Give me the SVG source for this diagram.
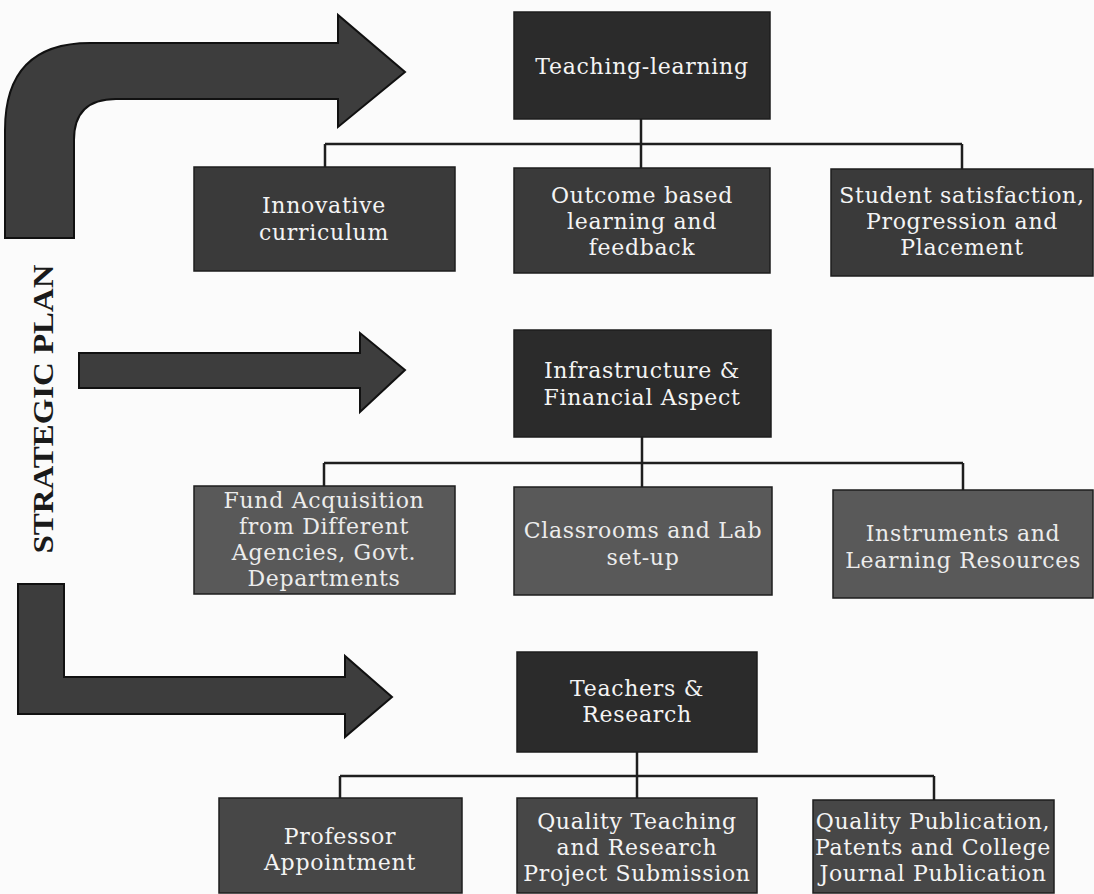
<svg xmlns="http://www.w3.org/2000/svg" width="1094" height="894" viewBox="0 0 1094 894">
<style>
.bg{fill:#fbfbfb}
.arrow{fill:#3d3d3d;stroke:#111;stroke-width:2;stroke-linejoin:miter}
.box{stroke:#1e1e1e;stroke-width:1.5}
.main{fill:#2b2b2b}
.c1{fill:#3a3a3a}
.c2{fill:#595959}
.c3{fill:#474747}
.lbl{font-family:"DejaVu Serif","Liberation Serif",serif;font-size:22px;letter-spacing:0.7px;fill:#f4f4f4;text-anchor:middle}
.lbl2{fill:#ececec}
.conn{fill:none;stroke:#1e1e1e;stroke-width:2.5}
.title{font-family:"Liberation Serif","DejaVu Serif",serif;font-weight:bold;font-size:30px;fill:#1a1a1a;text-anchor:middle}
</style>
<rect class="bg" x="0" y="0" width="1094" height="894"/>

<g id="arrows">
  <path id="arrow-top" class="arrow" d="M5,238 L5,130 Q5,43 90,43 L338,43 L338,15 L405,72 L338,127 L338,99 L116,99 Q74,99 74,140 L74,238 Z"/>
  <path id="arrow-middle" class="arrow" d="M79,353 L360,353 L360,333 L405,370 L360,412 L360,388 L79,388 Z"/>
  <path id="arrow-bottom" class="arrow" d="M18,584 L64,584 L64,677 L345,677 L345,656 L392,697 L345,737 L345,714 L18,714 Z"/>
</g>

<g id="strategic-plan">
  <text class="title" transform="translate(53,409) rotate(-90)" textLength="289" lengthAdjust="spacingAndGlyphs">STRATEGIC PLAN</text>
</g>

<g id="connectors">
  <path class="conn" d="M325,144 L962,144 M325,144 L325,167 M641,119 L641,168 M962,144 L962,169"/>
  <path class="conn" d="M324,463 L963,463 M324,463 L324,486 M642,437 L642,487 M963,463 L963,490"/>
  <path class="conn" d="M340,776 L934,776 M340,776 L340,798 M637,752 L637,798 M934,776 L934,800"/>
</g>

<g id="teaching-learning">
  <rect class="box main" x="514" y="12" width="256" height="107"/>
  <text class="lbl" x="642" y="74">Teaching-learning</text>
</g>
<g id="innovative-curriculum">
  <rect class="box c1" x="194" y="167" width="261" height="104"/>
  <text class="lbl" x="324" y="213">Innovative</text>
  <text class="lbl" x="324" y="240">curriculum</text>
</g>
<g id="outcome-based">
  <rect class="box c1" x="514" y="168" width="256" height="105"/>
  <text class="lbl" x="642" y="203">Outcome based</text>
  <text class="lbl" x="642" y="229">learning and</text>
  <text class="lbl" x="642" y="255">feedback</text>
</g>
<g id="student-satisfaction">
  <rect class="box c1" x="831" y="169" width="262" height="107"/>
  <text class="lbl" x="962" y="203">Student satisfaction,</text>
  <text class="lbl" x="962" y="229">Progression and</text>
  <text class="lbl" x="962" y="255">Placement</text>
</g>

<g id="infrastructure">
  <rect class="box main" x="514" y="330" width="257" height="107"/>
  <text class="lbl" x="642" y="378">Infrastructure &amp;</text>
  <text class="lbl" x="642" y="405">Financial Aspect</text>
</g>
<g id="fund-acquisition">
  <rect class="box c2" x="194" y="486" width="261" height="108"/>
  <text class="lbl lbl2" x="324" y="508">Fund Acquisition</text>
  <text class="lbl lbl2" x="324" y="534">from Different</text>
  <text class="lbl lbl2" x="324" y="560">Agencies, Govt.</text>
  <text class="lbl lbl2" x="324" y="586">Departments</text>
</g>
<g id="classrooms">
  <rect class="box c2" x="514" y="487" width="258" height="108"/>
  <text class="lbl lbl2" x="643" y="538">Classrooms and Lab</text>
  <text class="lbl lbl2" x="643" y="565">set-up</text>
</g>
<g id="instruments">
  <rect class="box c2" x="833" y="490" width="260" height="108"/>
  <text class="lbl lbl2" x="963" y="541">Instruments and</text>
  <text class="lbl lbl2" x="963" y="568">Learning Resources</text>
</g>

<g id="teachers-research">
  <rect class="box main" x="517" y="652" width="240" height="100"/>
  <text class="lbl" x="637" y="696">Teachers &amp;</text>
  <text class="lbl" x="637" y="722">Research</text>
</g>
<g id="professor-appointment">
  <rect class="box c3" x="219" y="798" width="243" height="95"/>
  <text class="lbl" x="340" y="844">Professor</text>
  <text class="lbl" x="340" y="870">Appointment</text>
</g>
<g id="quality-teaching">
  <rect class="box c3" x="517" y="798" width="240" height="95"/>
  <text class="lbl" x="637" y="829">Quality Teaching</text>
  <text class="lbl" x="637" y="855">and Research</text>
  <text class="lbl" x="637" y="881">Project Submission</text>
</g>
<g id="quality-publication">
  <rect class="box c3" x="813" y="800" width="241" height="93"/>
  <text class="lbl" x="933" y="829">Quality Publication,</text>
  <text class="lbl" x="933" y="855">Patents and College</text>
  <text class="lbl" x="933" y="881">Journal Publication</text>
</g>
</svg>
